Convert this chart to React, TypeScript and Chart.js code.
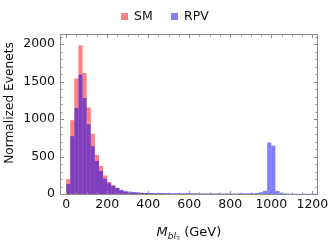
import React, { useEffect, useRef } from 'react';
import { Chart, registerables } from 'chart.js';

Chart.register(...registerables);

// Histogram: 20 GeV bins starting at 0 GeV
const BIN_WIDTH = 20;

const SM_VALUES = [
  200, 985, 1540, 1980, 1615, 1155, 805, 520, 372, 248,
  160, 120, 84, 44, 27, 18, 18, 13, 13, 10,
  8, 8, 7, 6, 6, 5, 5, 4, 4, 4,
  3, 3, 3, 2, 2, 2, 2, 2, 2, 2,
  1, 1, 1, 1, 1, 1, 1, 1, 1, 1,
  1, 1, 1, 1, 0, 0, 0, 0, 0, 0, 0,
];

const RPV_VALUES = [
  133, 770, 1147, 1595, 1280, 930, 638, 439, 308, 202,
  142, 107, 80, 58, 40, 35, 27, 22, 18, 15,
  13, 13, 12, 12, 11, 11, 10, 10, 10, 9,
  9, 9, 8, 8, 8, 8, 8, 8, 8, 8,
  8, 8, 9, 9, 10, 10, 12, 22, 44, 688,
  643, 40, 18, 6, 5, 4, 4, 3, 3, 3, 3,
];

const BIN_CENTERS = SM_VALUES.map((_, i) => i * BIN_WIDTH + BIN_WIDTH / 2);

const X_TICKS = [0, 200, 400, 600, 800, 1000, 1200];
const Y_TICKS = [0, 500, 1000, 1500, 2000];
const X_MINOR_STEP = 50;
const Y_MINOR_STEP = 100;

const SERIES_LABELS = ['SM', 'RPV'];
const SERIES_COLORS = ['rgba(255, 0, 0, 0.5)', 'rgba(0, 0, 255, 0.5)'];
const Y_TITLE = 'Normalized Evenets';

const FONT = "'DejaVu Sans', sans-serif";
const FRAME = '#8e8e8e';
const TEXT = '#111';

const framePlugin = {
  id: 'frameTicks',
  afterDatasetsDraw(chart: any) {
    const { ctx, chartArea: a, scales } = chart;
    const xs = scales.x;
    const ys = scales.y;
    const L = Math.round(a.left) - 0.5;
    const R = Math.round(a.right) + 0.5;
    const T = Math.round(a.top) - 0.5;
    const B = Math.round(a.bottom) + 0.5;
    ctx.save();
    ctx.strokeStyle = FRAME;
    ctx.lineWidth = 1;
    ctx.beginPath();
    for (let v = 0; v <= xs.max; v += X_MINOR_STEP) {
      const px = Math.round(xs.getPixelForValue(v)) + 0.5;
      const len = X_TICKS.includes(v) ? 3.5 : 2;
      ctx.moveTo(px, B);
      ctx.lineTo(px, B - len);
      ctx.moveTo(px, T);
      ctx.lineTo(px, T + len);
    }
    for (let v = 0; v <= ys.max; v += Y_MINOR_STEP) {
      const py = Math.round(ys.getPixelForValue(v)) + 0.5;
      const len = Y_TICKS.includes(v) ? 3.5 : 2;
      ctx.moveTo(L, py);
      ctx.lineTo(L + len, py);
      ctx.moveTo(R, py);
      ctx.lineTo(R - len, py);
    }
    ctx.stroke();
    ctx.strokeRect(L, T, R - L, B - T);
    ctx.restore();
  },
  afterDraw(chart: any) {
    const { ctx, chartArea: a } = chart;
    ctx.save();
    ctx.fillStyle = TEXT;

    // legend (top, centred)
    const legendBoxX = [121, 171];
    ctx.font = `12.5px ${FONT}`;
    ctx.textAlign = 'left';
    ctx.textBaseline = 'middle';
    chart.data.datasets.forEach((ds: any, i: number) => {
      ctx.fillStyle = ds.backgroundColor;
      ctx.fillRect(legendBoxX[i], 13, 7, 7);
      ctx.fillStyle = TEXT;
      ctx.fillText(ds.label, legendBoxX[i] + 13, 16.5);
    });

    // x title with subscripts: M_{bl_2} (GeV)
    const parts = [
      { t: 'M', font: `italic 13px ${FONT}`, dy: 0 },
      { t: 'bl', font: `italic 9px ${FONT}`, dy: 3 },
      { t: '2', font: `6.5px ${FONT}`, dy: 5 },
      { t: ' (GeV)', font: `13px ${FONT}`, dy: 0 },
    ];
    let total = 0;
    const widths = parts.map((p) => {
      ctx.font = p.font;
      const w = ctx.measureText(p.t).width;
      total += w;
      return w;
    });
    let x = (a.left + a.right) / 2 - total / 2;
    const base = 236;
    ctx.textAlign = 'left';
    ctx.textBaseline = 'alphabetic';
    parts.forEach((p, i) => {
      ctx.font = p.font;
      ctx.fillText(p.t, x, base + p.dy);
      x += widths[i];
    });

    // y title
    ctx.translate(10, 103);
    ctx.rotate(-Math.PI / 2);
    ctx.font = `12.2px ${FONT}`;
    ctx.textAlign = 'center';
    ctx.textBaseline = 'middle';
    ctx.fillText(Y_TITLE, 0, 0);
    ctx.restore();
  },
};

export default function App() {
  const ref = useRef<HTMLCanvasElement | null>(null);

  useEffect(() => {
    if (!ref.current) return;
    const chart = new Chart(ref.current, {
      type: 'bar',
      data: {
        datasets: [
          {
            label: SERIES_LABELS[0],
            data: BIN_CENTERS.map((x, i) => ({ x, y: SM_VALUES[i] })),
            backgroundColor: SERIES_COLORS[0],
            borderWidth: 0,
            grouped: false,
            order: 1,
            barPercentage: 1,
            categoryPercentage: 1,
            inflateAmount: 0,
          } as any,
          {
            label: SERIES_LABELS[1],
            data: BIN_CENTERS.map((x, i) => ({ x, y: RPV_VALUES[i] })),
            backgroundColor: SERIES_COLORS[1],
            borderWidth: 0,
            grouped: false,
            order: 0,
            barPercentage: 1,
            categoryPercentage: 1,
            inflateAmount: 0,
          } as any,
        ],
      },
      options: {
        responsive: false,
        animation: false,
        devicePixelRatio: 1,
        layout: { padding: { left: 0, right: 14, top: 35, bottom: 0 } },
        plugins: {
          legend: { display: false },
          tooltip: { enabled: false },
        },
        scales: {
          x: {
            type: 'linear',
            min: -25,
            max: 1222,
            offset: false,
            grid: { display: false, drawTicks: false },
            border: { display: false },
            ticks: {
              padding: 3.5,
              color: TEXT,
              font: { family: FONT, size: 12.5 },
              maxRotation: 0,
              autoSkip: false,
              callback: (v: any) => String(v),
            },
            afterBuildTicks: (s: any) => {
              s.ticks = X_TICKS.map((v) => ({ value: v }));
            },
            afterFit: (s: any) => {
              s.height = 46;
            },
          },
          y: {
            min: 0,
            max: 2120,
            grid: { display: false, drawTicks: false },
            border: { display: false },
            ticks: {
              padding: 6,
              color: TEXT,
              font: { family: FONT, size: 12.5 },
              callback: (v: any) => String(v),
            },
            afterBuildTicks: (s: any) => {
              s.ticks = Y_TICKS.map((v) => ({ value: v }));
            },
            afterFit: (s: any) => {
              s.width = 61;
            },
          },
        },
      } as any,
      plugins: [framePlugin],
    });
    return () => chart.destroy();
  }, []);

  return (
    <div style={{ position: 'fixed', left: 0, top: 0, width: 332, height: 240, background: '#fff' }}>
      <canvas ref={ref} width={332} height={240} style={{ display: 'block' }} />
    </div>
  );
}
